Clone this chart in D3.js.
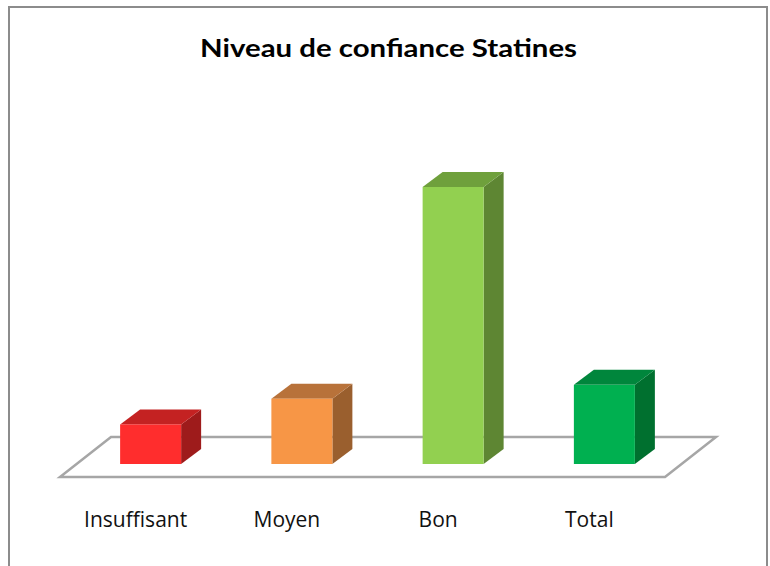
<!DOCTYPE html>
<html>
    <head>
        <meta http-equiv="Content-Type" content="text/html; charset=UTF-8">
        <script src="https://d3js.org/d3.v7.min.js"></script>
        <style>
            html, body {
                margin: 0;
                padding: 0;
                background-color: white;
            }
            svg text {
                font-family: Lato, 'Open Sans', sans-serif;
                fill: black;
            }
            svg text.cat {
                font-family: 'Open Sans', sans-serif;
                font-variant-ligatures: none;
                fill: #111;
            }
        </style>
        <title>Niveau de confiance Statines</title>
    </head>
    <body>
        <script>
            var categories = ["Insuffisant", "Moyen", "Bon", "Total"];
            var values = [10, 16.5, 70, 20];
            var frontColors = ["#FF2D2D", "#F79646", "#92D050", "#00B050"];
            var topColors = ["#C42222", "#B8723A", "#6FA03C", "#00863C"];
            var sideColors = ["#9E1B1B", "#9A5F2E", "#5E8633", "#00702F"];
            var title = "Niveau de confiance Statines";

            var ww = 770, hh = 566;
            var svg = d3.select("body").append("svg").attr("width", ww).attr("height", hh);

            // frame
            svg.append("rect").attr("x", 9).attr("y", 7).attr("width", 758).attr("height", 600)
                .style("fill", "white").style("stroke", "#8C8C8C").style("stroke-width", 2);

            // title
            svg.append("text").attr("x", 388.5).attr("y", 57).attr("text-anchor", "middle")
                .attr("textLength", 377).attr("lengthAdjust", "spacingAndGlyphs")
                .style("font-size", "24px").style("font-weight", "bold").text(title);

            // floor: front edge y 477, back edge 40px deeper, shifted 51px right
            var floorY = 477, depthX = 51, depthY = -40;
            var x = d3.scaleBand().domain(categories).range([60, 665]);
            var y = d3.scaleLinear().domain([0, 70]).range([464, 187]);

            var x0 = x.range()[0], x1 = x.range()[1];
            svg.append("path")
                .attr("d", "M" + x0 + "," + floorY + "L" + x1 + "," + floorY +
                    "L" + (x1 + depthX) + "," + (floorY + depthY) +
                    "L" + (x0 + depthX) + "," + (floorY + depthY) + "Z")
                .style("fill", "white").style("stroke", "#A6A6A6").style("stroke-width", 2.5);

            // bars (3D boxes)
            var barW = 61, bdx = 20, bdy = -15, shift = 15;
            var bars = svg.selectAll("g.bar").data(categories).enter().append("g").attr("class", "bar");

            function left(c) { return x(c) + x.bandwidth() / 2 + shift - barW / 2; }
            function poly(pts) { return "M" + pts.map(function(p) { return p.join(","); }).join("L") + "Z"; }

            bars.append("path").attr("d", function(c, i) {
                var l = left(c), r = l + barW, t = y(values[i]), b = y(0);
                return poly([[r, t], [r + bdx, t + bdy], [r + bdx, b + bdy], [r, b]]);
            }).style("fill", function(c, i) { return sideColors[i]; });

            bars.append("path").attr("d", function(c, i) {
                var l = left(c), r = l + barW, t = y(values[i]);
                return poly([[l, t], [l + bdx, t + bdy], [r + bdx, t + bdy], [r, t]]);
            }).style("fill", function(c, i) { return topColors[i]; });

            bars.append("rect")
                .attr("x", function(c) { return left(c); })
                .attr("y", function(c, i) { return y(values[i]); })
                .attr("width", barW)
                .attr("height", function(c, i) { return y(0) - y(values[i]); })
                .style("fill", function(c, i) { return frontColors[i]; });

            // category labels
            svg.selectAll("text.cat").data(categories).enter().append("text").attr("class", "cat")
                .attr("x", function(c) { return x(c) + x.bandwidth() / 2; })
                .attr("y", 527)
                .attr("text-anchor", "middle")
                .style("font-size", "21px")
                .text(function(c) { return c; });
        </script>
    </body>
</html>
